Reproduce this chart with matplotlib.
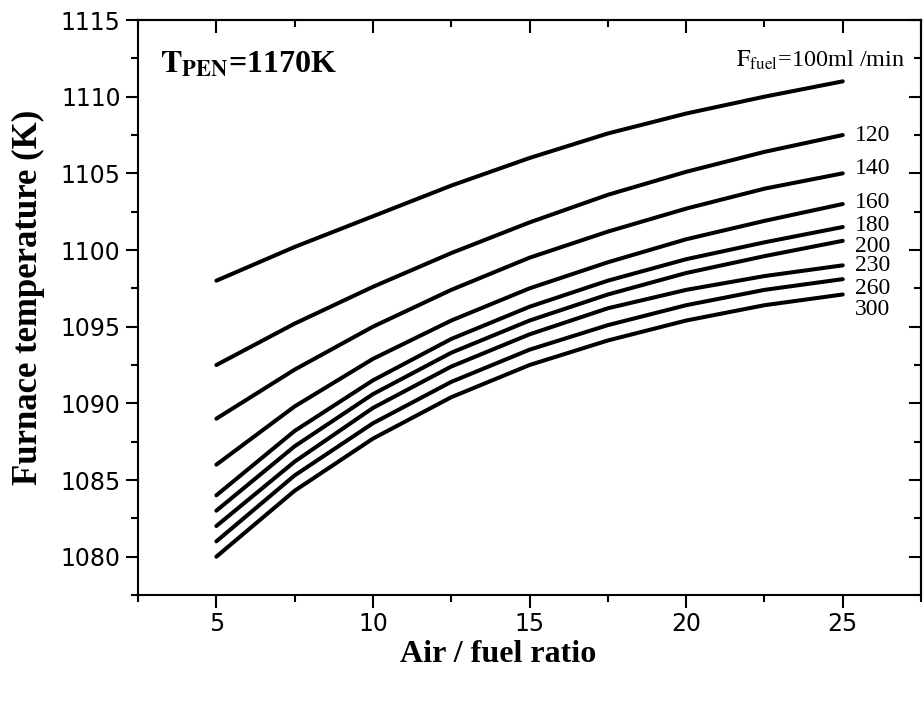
import numpy as np
import matplotlib
matplotlib.use('Agg')
import matplotlib.pyplot as plt
from matplotlib.ticker import MultipleLocator

plt.rcParams['mathtext.fontset'] = 'stix'

# air / fuel ratio where the curves were read
ratio = [5, 7.5, 10, 12.5, 15, 17.5, 20, 22.5, 25]

# furnace temperature (K) for each fuel flow (ml/min)
t100 = [1098.0, 1100.2, 1102.2, 1104.2, 1106.0, 1107.6, 1108.9, 1110.0, 1111.0]
t120 = [1092.5, 1095.2, 1097.6, 1099.8, 1101.8, 1103.6, 1105.1, 1106.4, 1107.5]
t140 = [1089.0, 1092.2, 1095.0, 1097.4, 1099.5, 1101.2, 1102.7, 1104.0, 1105.0]
t160 = [1086.0, 1089.8, 1092.9, 1095.4, 1097.5, 1099.2, 1100.7, 1101.9, 1103.0]
t180 = [1084.0, 1088.2, 1091.5, 1094.2, 1096.3, 1098.0, 1099.4, 1100.5, 1101.5]
t200 = [1083.0, 1087.2, 1090.6, 1093.3, 1095.4, 1097.1, 1098.5, 1099.6, 1100.6]
t230 = [1082.0, 1086.2, 1089.7, 1092.4, 1094.5, 1096.2, 1097.4, 1098.3, 1099.0]
t260 = [1081.0, 1085.3, 1088.7, 1091.4, 1093.5, 1095.1, 1096.4, 1097.4, 1098.1]
t300 = [1080.0, 1084.3, 1087.7, 1090.4, 1092.5, 1094.1, 1095.4, 1096.4, 1097.1]

flows = ['100', '120', '140', '160', '180', '200', '230', '260', '300']
curves = [t100, t120, t140, t160, t180, t200, t230, t260, t300]
# small vertical nudges so the end labels don't collide
label_shift = [0, 0, 0.3, 0.1, 0.1, -0.4, 0.0, -0.6, -1.0]

fig = plt.figure(figsize=(9.24, 7.02), dpi=100)
ax = fig.add_axes([0.1494, 0.1524, 0.8474, 0.8191])

for f, t, dy in zip(flows, curves, label_shift):
    ax.plot(ratio, t, color='black', lw=2.9, solid_capstyle='round',
            solid_joinstyle='round')
    if f != '100':
        ax.text(ratio[-1] + 0.4, t[-1] + dy, f, fontsize=17,
                family='Liberation Serif', va='center', ha='left')

ax.text(21.6, 1112.4, r'$\mathrm{F}_{\mathrm{fuel}}$=100ml /min', fontsize=17.5,
        family='Liberation Serif', va='center', ha='left')
ax.text(3.2, 1111.6, r'$\mathbf{T}_{\mathbf{PEN}}$=1170K', fontsize=23,
        family='Liberation Serif', fontweight='bold', va='baseline', ha='left')

ax.set_xlim(2.5, 27.5)
ax.set_ylim(1077.5, 1115)
ax.xaxis.set_major_locator(MultipleLocator(5))
ax.xaxis.set_minor_locator(MultipleLocator(2.5))
ax.yaxis.set_major_locator(MultipleLocator(5))
ax.yaxis.set_minor_locator(MultipleLocator(2.5))
ax.tick_params(which='major', direction='out', length=9, width=1.5, labelsize=17)
ax.tick_params(which='minor', direction='out', length=5, width=1.5)
for lab in ax.get_xticklabels() + ax.get_yticklabels():
    lab.set_family('DejaVu Sans')

# top and right ticks point inward
top = ax.secondary_xaxis('top')
right = ax.secondary_yaxis('right')
for sec in (top, right):
    sec.tick_params(which='major', direction='in', length=9, width=1.5, labelsize=0)
    sec.tick_params(which='minor', direction='in', length=5, width=1.5)
    for s in sec.spines.values():
        s.set_linewidth(1.5)
top.xaxis.set_major_locator(MultipleLocator(5))
top.xaxis.set_minor_locator(MultipleLocator(2.5))
right.yaxis.set_major_locator(MultipleLocator(5))
right.yaxis.set_minor_locator(MultipleLocator(2.5))
top.set_xticklabels([])
right.set_yticklabels([])

for s in ax.spines.values():
    s.set_linewidth(1.5)

ax.set_xlabel('Air / fuel ratio', fontsize=23, family='Liberation Serif',
              fontweight='bold')
ax.set_ylabel('Furnace temperature (K)', fontsize=25, family='Liberation Serif',
              fontweight='bold')
ax.xaxis.set_label_coords(0.46, -0.078)
ax.yaxis.set_label_coords(-0.119, 0.518)

fig.savefig('out.png', dpi=100)
